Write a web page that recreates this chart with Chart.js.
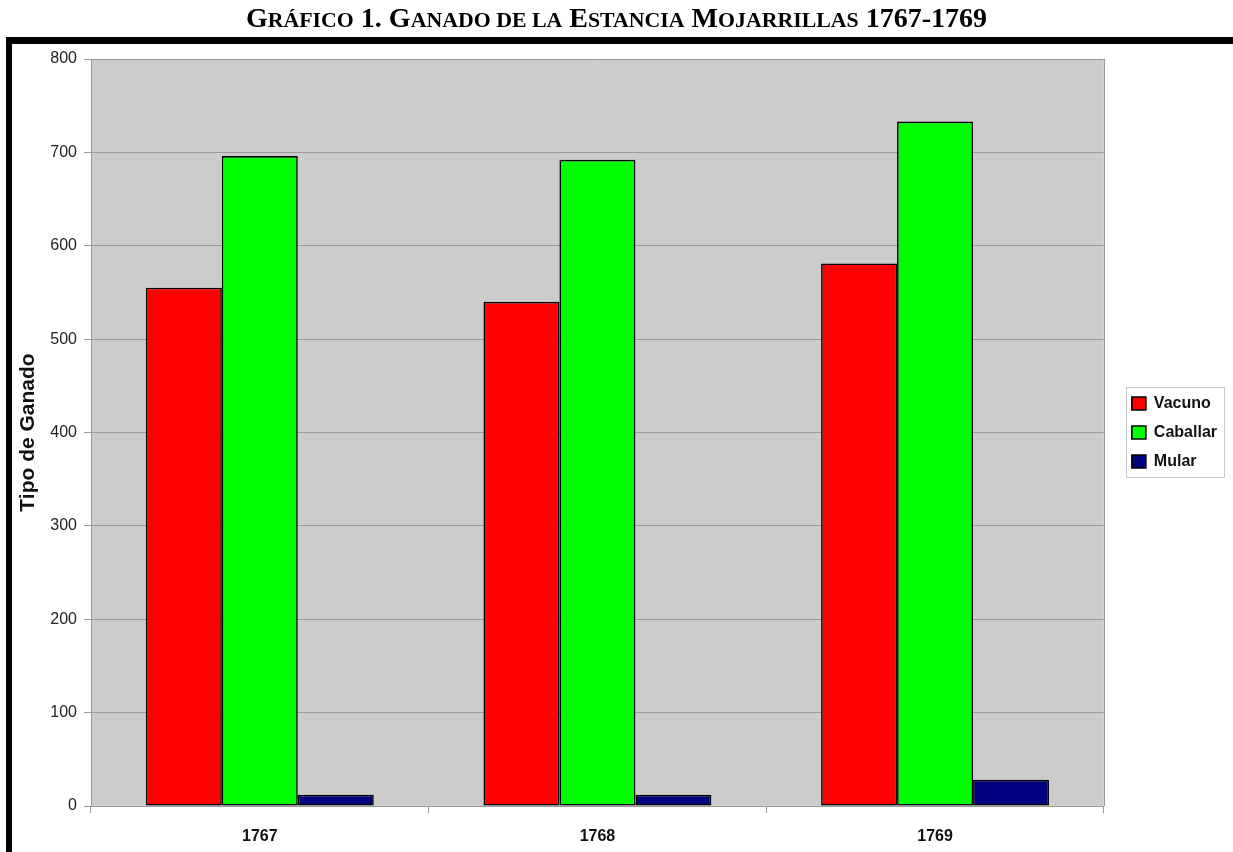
<!DOCTYPE html>
<html>
<head>
<meta charset="utf-8">
<script src="https://cdn.jsdelivr.net/npm/chart.js@4.4.1/dist/chart.umd.min.js"></script>
<style>
  html, body { margin: 0; padding: 0; background: #ffffff; }
  #wrap { position: relative; width: 1233px; height: 852px; overflow: hidden; }
  #c { position: absolute; left: 0; top: 0; }
  #title {
    position: absolute; left: 0; top: 1px; width: 1233px; text-align: center;
    font-family: 'Liberation Serif', 'Times New Roman', serif; font-weight: bold;
    font-size: 28px; line-height: 34px; color: #000; z-index: 2; white-space: nowrap;
  }
  #title .sc { font-size: 78%; }
  #frameTop { position: absolute; left: 6px; top: 37px; width: 1227px; height: 7px; background: #000; z-index: 2; }
  #frameLeft { position: absolute; left: 6px; top: 37px; width: 6px; height: 815px; background: #000; z-index: 2; }
</style>
</head>
<body>
<div id="wrap">
  <canvas id="c" width="1233" height="852"></canvas>
  <div id="title">G<span class="sc">RÁFICO</span> 1. G<span class="sc">ANADO DE LA</span> E<span class="sc">STANCIA</span> M<span class="sc">OJARRILLAS</span> 1767-1769</div>
  <div id="frameTop"></div>
  <div id="frameLeft"></div>
</div>
<script>
// ---- data ----
const categories = ['1767', '1768', '1769'];
const seriesNames = ['Vacuno', 'Caballar', 'Mular'];
const vacuno = [555, 540, 581];
const caballar = [696, 692, 733];
const mular = [12, 12, 28];
const yMin = 0;
const yMax = 800;
const yStep = 100;
const yTitle = 'Tipo de Ganado';

// ---- styles ----
const colors = ['#ff0000', '#00ff00', '#000080'];
const LEGEND_DX = 15;
const LEGEND_DY = -23;

Chart.defaults.font.family = "'Liberation Sans', Arial, sans-serif";

const plotBg = {
  id: 'plotBg',
  beforeDraw(chart) {
    const { ctx, chartArea: a } = chart;
    ctx.save();
    ctx.fillStyle = '#cccccc';
    ctx.fillRect(a.left, a.top, a.right - a.left, a.bottom - a.top);
    const hb = chart.legend && chart.legend.legendHitBoxes;
    if (hb && hb.length) {
      let l = Infinity, t = Infinity, r = -Infinity, b = -Infinity;
      hb.forEach(h => { l = Math.min(l, h.left); t = Math.min(t, h.top); r = Math.max(r, h.left + h.width); b = Math.max(b, h.top + h.height); });
      const x0 = Math.round(l - 6), y0 = Math.round(t - 9), x1 = Math.round(r + 7), y1 = Math.round(b + 7);
      ctx.fillStyle = '#ffffff';
      ctx.fillRect(x0, y0, x1 - x0, y1 - y0);
      ctx.strokeStyle = '#c8c8c8';
      ctx.lineWidth = 1;
      ctx.strokeRect(x0 + 0.5, y0 + 0.5, x1 - x0, y1 - y0);
    }
    ctx.restore();
  },
  afterDraw(chart) {
    const { ctx, chartArea: a } = chart;
    ctx.save();
    ctx.strokeStyle = '#999999';
    ctx.lineWidth = 1;
    ctx.beginPath();
    ctx.moveTo(Math.round(a.right) + 0.5, a.top);
    ctx.lineTo(Math.round(a.right) + 0.5, a.bottom);
    ctx.stroke();
    ctx.restore();
  }
};

const legendShift = {
  id: 'legendShift',
  afterLayout(chart) {
    const l = chart.legend;
    if (!l) return;
    l.left += LEGEND_DX; l.right += LEGEND_DX;
    l.top += LEGEND_DY; l.bottom += LEGEND_DY;
  }
};

new Chart(document.getElementById('c'), {
  type: 'bar',
  data: {
    labels: categories,
    datasets: [
      { label: seriesNames[0], data: vacuno, backgroundColor: colors[0] },
      { label: seriesNames[1], data: caballar, backgroundColor: colors[1] },
      { label: seriesNames[2], data: mular, backgroundColor: colors[2] }
    ].map(d => Object.assign(d, { borderColor: '#000000', borderWidth: 1.6, borderSkipped: false,
      categoryPercentage: 0.675, barPercentage: 1.0 }))
  },
  options: {
    responsive: false,
    animation: false,
    devicePixelRatio: 1,
    layout: { padding: { top: 59, left: 0, right: 21, bottom: 0 } },
    plugins: {
      title: { display: false },
      tooltip: { enabled: false },
      legend: {
        position: 'right',
        align: 'center',
        labels: {
          boxWidth: 14, boxHeight: 13, padding: 13,
          color: '#111111',
          font: { size: 16, weight: 'bold' }
        }
      }
    },
    scales: {
      x: {
        afterFit(s) { s.height = 46; },
        grid: { display: true, drawOnChartArea: false, drawTicks: true, tickLength: 7, color: '#999999', offset: true },
        border: { display: true, color: '#999999', width: 1 },
        ticks: { color: '#111111', padding: 14, font: { size: 16, weight: 'bold' } }
      },
      y: {
        min: yMin, max: yMax,
        afterFit(s) { s.width = 91; },
        grid: { color: '#9a9a9a', lineWidth: 1, tickLength: 7, drawTicks: true },
        border: { display: true, color: '#999999', width: 1 },
        ticks: { stepSize: yStep, color: '#222222', padding: 7, font: { size: 16 } },
        title: { display: true, text: yTitle, color: '#111111', font: { size: 21, weight: 'bold' }, padding: { top: 16, bottom: 0 } }
      }
    }
  },
  plugins: [plotBg, legendShift]
});
</script>
</body>
</html>
